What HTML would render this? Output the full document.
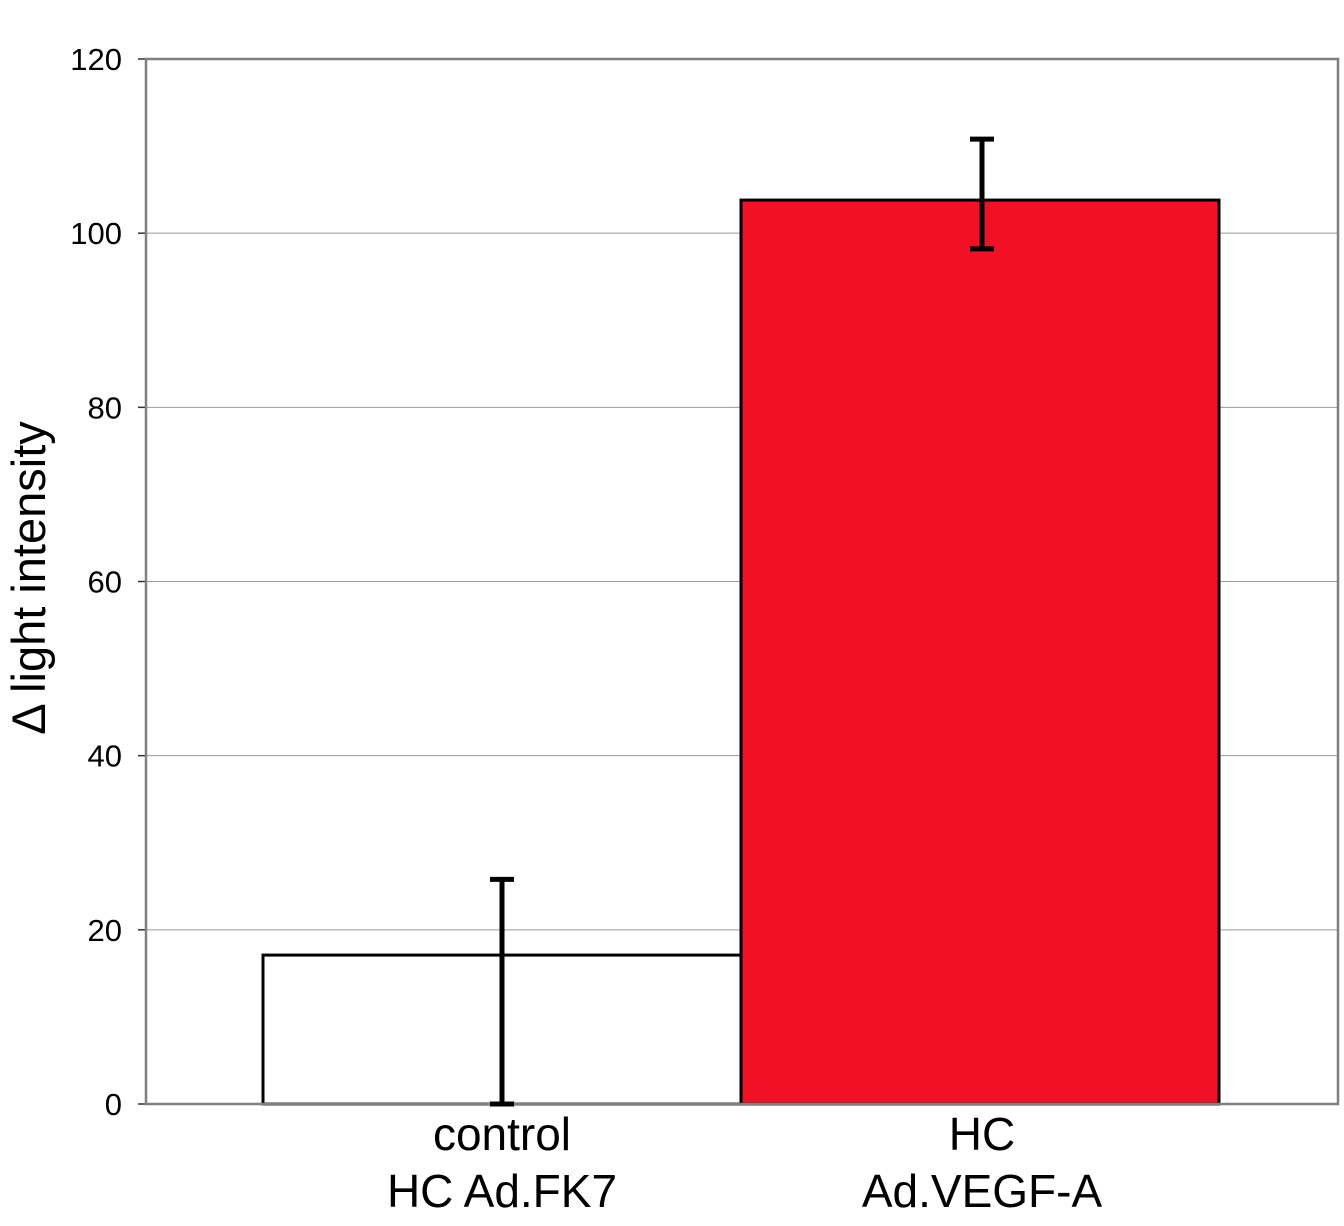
<!DOCTYPE html>
<html><head><meta charset="utf-8"><style>
html,body{margin:0;padding:0;background:#fff;width:1344px;height:1226px;overflow:hidden}
svg text{font-family:"Liberation Sans",Arial,sans-serif;fill:#000}
</style></head><body>
<svg id="chart" width="1344" height="1226" viewBox="0 0 1344 1226" xmlns="http://www.w3.org/2000/svg">
<g id="grid"></g>
<g id="bars"></g>
<g id="axes"></g>
<g id="errs"></g>
<g id="labels"></g>
<text transform="translate(45,578) rotate(-90)" text-anchor="middle" font-size="47">Δ light intensity</text>
</svg>
<script>
const categories = [["control","HC Ad.FK7"],["HC","Ad.VEGF-A"]];
const values = [17.1, 103.8];
const errUpper = [25.8, 110.8];
const errLower = [0, 98.2];
const fills = ["#ffffff","#f21124"];
const yTicks = [0,20,40,60,80,100,120];

const L=146,R=1338,T=59,B=1104,yMax=120;
const barL=263,barW=478;
const y=v=>B-(v/yMax)*(B-T);
const xBar=i=>barL+i*barW;
const NS="http://www.w3.org/2000/svg";
function mk(tag,attrs,parent){const e=document.createElementNS(NS,tag);for(const k in attrs)e.setAttribute(k,attrs[k]);parent.appendChild(e);return e;}
const grid=document.getElementById('grid'),bars=document.getElementById('bars'),axes=document.getElementById('axes'),errs=document.getElementById('errs'),labels=document.getElementById('labels');

yTicks.forEach(t=>{
  if(t>0&&t<yMax){const g=mk('line',{x1:L,x2:R,y1:y(t),y2:y(t),stroke:'#9a9a9a','stroke-width':1},grid);
  
  }
  const tk=mk('line',{x1:138,x2:L,y1:y(t),y2:y(t),stroke:'#333','stroke-width':1.5},axes);
  
  
  const tx=mk('text',{x:122,y:y(t)+11,'text-anchor':'end','font-size':31},labels);
  tx.textContent=t;
  
  
});
const fr=mk('rect',{x:L,y:T,width:R-L,height:B-T,fill:'none',stroke:'#808080','stroke-width':2.5},axes);



values.forEach((v,i)=>{
  const r=mk('rect',{x:xBar(i),y:y(v),width:barW,height:B-y(v),fill:fills[i],stroke:'#000','stroke-width':3},bars);
  
  
  const cx=xBar(i)+barW/2+(i===0?0:2);
  const e=mk('path',{d:`M${cx},${y(errLower[i])}V${y(errUpper[i])}M${cx-12},${y(errUpper[i])}H${cx+12}M${cx-12},${y(errLower[i])}H${cx+12}`,stroke:'#000','stroke-width':5,fill:'none'},errs);
  
  
  categories[i].forEach((s,j)=>{
    const t=mk('text',{x:xBar(i)+barW/2+(i===0?0:2),y:1150+j*57,'text-anchor':'middle','font-size':46},labels);
    t.textContent=s;
    
    
  });
});
</script>
</body></html>
